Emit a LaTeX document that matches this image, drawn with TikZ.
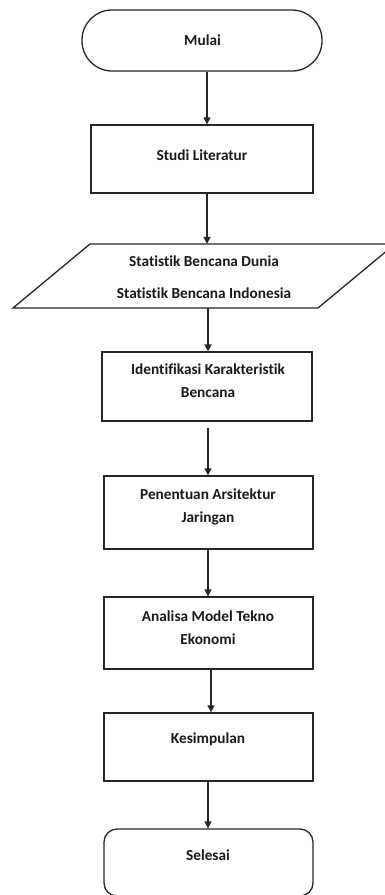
\documentclass[tikz,border=0pt]{standalone}
\usepackage{fontspec}
\setmainfont{Carlito}[Ligatures={NoCommon}]
\usetikzlibrary{arrows.meta}
\begin{document}
\begin{tikzpicture}[x=1pt,y=-1pt,
  flowbox/.style={draw=black!85,line width=1.3pt,inner sep=0pt},
  lbl/.style={font=\fontsize{15.3}{23}\selectfont\bfseries,align=center,inner sep=0pt,text=black!90},
  arr/.style={draw=black!85,line width=1.3pt,-{Triangle[length=7pt,width=7pt]}}]
\useasboundingbox (0,0) rectangle (385,895);
\begin{scope}
\clip (0,0) rectangle (385,895);
% shapes
\node[flowbox,rectangle,rounded corners=30pt,minimum width=240pt,minimum height=61pt] (mulai) at (202,40.5) {};
\node[flowbox,rectangle,minimum width=222pt,minimum height=68pt] (studi) at (202,159) {};
\node[inner sep=0pt,minimum width=230pt,minimum height=64pt] (para) at (204,276) {};
\draw[draw=black!85,line width=1.3pt] (90,244) -- (395,244) -- (318,308) -- (13,308) -- cycle;
\node[flowbox,rectangle,minimum width=210pt,minimum height=69pt] (ident) at (207,386.5) {};
\node[flowbox,rectangle,minimum width=209pt,minimum height=73pt] (pen) at (208.5,512.5) {};
\node[flowbox,rectangle,minimum width=209pt,minimum height=72pt] (ana) at (208.5,633) {};
\node[flowbox,rectangle,minimum width=209pt,minimum height=68pt] (kes) at (208.5,747) {};
\node[flowbox,rectangle,rounded corners=13pt,minimum width=209pt,minimum height=67pt] (sel) at (208.5,862.5) {};
\end{scope}
% texts
\node[lbl] (tmulai) at (202.5,40) {Mulai};
\node[lbl] (tstudi) at (202,155.5) {Studi Literatur};
\node[lbl,font=\fontsize{15.3}{32}\selectfont\bfseries] (tpara) at (204,277) {Statistik Bencana Dunia\\Statistik Bencana Indonesia};
\node[lbl] (tident) at (208,380.5) {Identifikasi Karakteristik\\Bencana};
\node[lbl] (tpen) at (208,506.5) {Penentuan Arsitektur\\Jaringan};
\node[lbl] (tana) at (208,627.5) {Analisa Model Tekno\\Ekonomi};
\node[lbl] (tkes) at (208,739) {Kesimpulan};
\node[lbl] (tsel) at (208,855) {Selesai};
% arrows
\draw[arr] ([xshift=5pt]mulai.south) -- ([xshift=5pt]studi.north);
\draw[arr] ([xshift=5pt]studi.south) -- ([xshift=3pt]para.north);
\draw[arr] ([xshift=4pt]para.south) -- ([xshift=1pt]ident.north);
\draw[arr] ([xshift=1pt,yshift=-6pt]ident.south) -- ([xshift=-0.5pt]pen.north);
\draw[arr] ([xshift=-0.5pt]pen.south) -- ([xshift=-0.5pt]ana.north);
\draw[arr] ([xshift=2.5pt]ana.south) -- ([xshift=2.5pt]kes.north);
\draw[arr] ([xshift=-0.5pt]kes.south) -- ([xshift=-0.5pt]sel.north);
\end{tikzpicture}
\end{document}
